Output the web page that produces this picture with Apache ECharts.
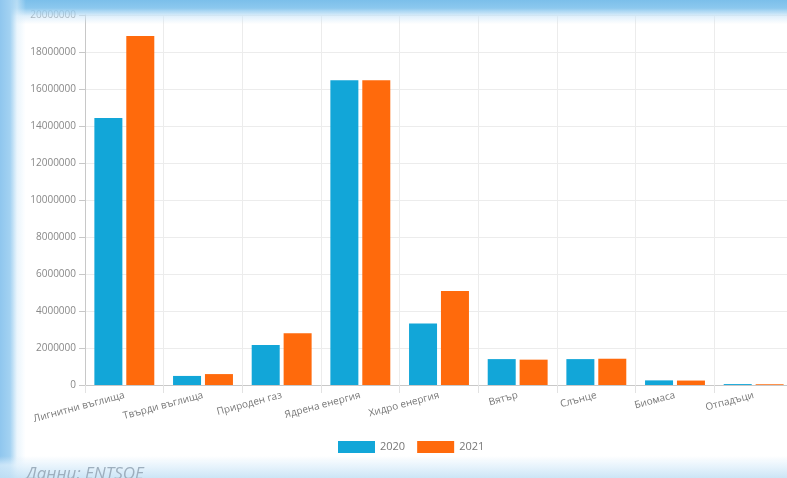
<!DOCTYPE html>
<html>
<head>
<meta charset="utf-8">
<script src="https://cdn.jsdelivr.net/npm/echarts@6/dist/echarts.min.js"></script>
<style>
  html, body { margin: 0; padding: 0; width: 787px; height: 478px; overflow: hidden; background: #fff; }
  #chart { position: absolute; left: 0; top: 0; width: 800px; height: 478px; }
  .edge { position: absolute; pointer-events: none; }
  #edgeTop { left: 0; top: 0; width: 787px; height: 24px;
    background: linear-gradient(to bottom, #7bbfea 0px, #8cc8ee 8px, rgba(200,228,248,0.6) 16px, rgba(255,255,255,0) 24px); }
  #edgeLeft { left: 0; top: 0; width: 26px; height: 478px;
    background: linear-gradient(to right, #8fc6ee 0px, #a3d2f2 10px, rgba(220,238,250,0.6) 17px, rgba(255,255,255,0) 26px); }
  #edgeBottom { left: 0; top: 456px; width: 787px; height: 22px;
    background: linear-gradient(to bottom, rgba(255,255,255,0) 0px, rgba(225,240,251,0.7) 9px, rgba(196,225,245,0.85) 22px); }
  #source { position: absolute; left: 26px; top: 461px; font-family: 'Open Sans'; font-style: italic;
    font-size: 17px; color: #9eafbe; white-space: nowrap; }
</style>
</head>
<body>
<div id="chart"></div>
<div class="edge" id="edgeTop"></div>
<div class="edge" id="edgeLeft"></div>
<div class="edge" id="edgeBottom"></div>
<div id="source">Данни: ENTSOE</div>
<script>
  const categories = ['Лигнитни въглища', 'Твърди въглища', 'Природен газ', 'Ядрена енергия', 'Хидро енергия', 'Вятър', 'Слънце', 'Биомаса', 'Отпадъци'];
  const years = ['2020', '2021'];
  const values2020 = [14430000, 490000, 2160000, 16470000, 3330000, 1400000, 1400000, 250000, 50000];
  const values2021 = [18860000, 590000, 2800000, 16470000, 5080000, 1370000, 1420000, 240000, 40000];
  const yTicks = { min: 0, max: 20000000, interval: 2000000 };

  const colors = ['#12a6d8', '#ff6a0c'];

  const chart = echarts.init(document.getElementById('chart'));

  const option = {
    animation: false,
    color: colors,
    grid: { left: 85, right: 7, top: 15, bottom: 93 },
    legend: {
      data: years,
      left: 333,
      top: 436,
      itemWidth: 37,
      itemHeight: 12,
      itemGap: 12,
      icon: 'rect',
      textStyle: { color: '#777', fontSize: 11, fontFamily: 'Open Sans' }
    },
    xAxis: {
      type: 'category',
      data: categories,
      axisLine: { lineStyle: { color: '#c8c8c8' } },
      axisTick: { show: true, length: 8, lineStyle: { color: '#e2e2e2' } },
      splitLine: { show: true, lineStyle: { color: '#ececec' } },
      axisLabel: {
        rotate: 15,
        interval: 0,
        margin: 10,
        color: '#777',
        fontSize: 10,
        fontFamily: 'Open Sans'
      }
    },
    yAxis: {
      type: 'value',
      min: yTicks.min,
      max: yTicks.max,
      interval: yTicks.interval,
      axisLine: { show: true, lineStyle: { color: '#c8c8c8' } },
      axisTick: { show: true, length: 6, lineStyle: { color: '#c8c8c8' } },
      splitLine: { lineStyle: { color: '#ececec' } },
      axisLabel: {
        color: '#888',
        fontSize: 10,
        fontFamily: 'Open Sans',
        margin: 9,
        formatter: function (v) { return String(v); }
      }
    },
    series: [
      { name: years[0], type: 'bar', data: values2020, barWidth: 28, barGap: '14%' },
      { name: years[1], type: 'bar', data: values2021, barWidth: 28, barGap: '14%' }
    ]
  };

  chart.setOption(option);
</script>
</body>
</html>
